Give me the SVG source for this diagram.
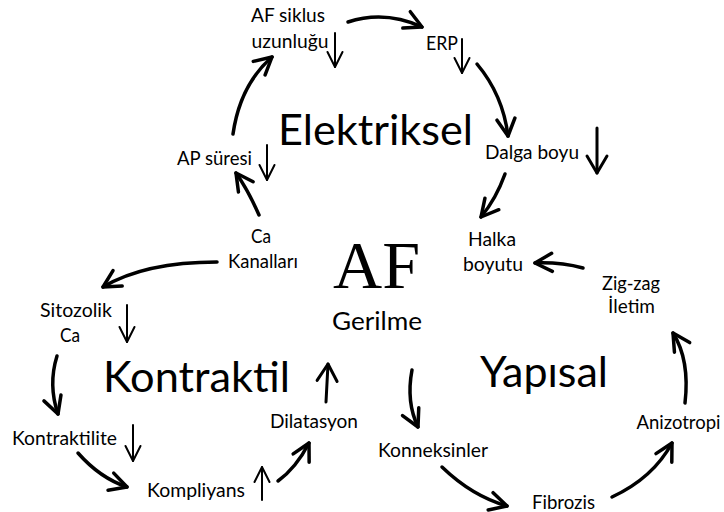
<svg xmlns="http://www.w3.org/2000/svg" width="724" height="512" viewBox="0 0 724 512">
  <style>
    .lbl { font-family: Lato, "Open Sans", "Liberation Sans", sans-serif; font-size: 19.5px; fill: #000; text-anchor: middle; }
    .title { font-family: Lato, "Open Sans", "Liberation Sans", sans-serif; font-size: 42px; fill: #000; text-anchor: middle; }
    .af { font-family: "Liberation Serif", "DejaVu Serif", serif; font-size: 68px; fill: #000; text-anchor: middle; }
    .sub { font-family: Lato, "Open Sans", "Liberation Sans", sans-serif; font-size: 25px; fill: #000; text-anchor: middle; }
    .flow { fill: none; stroke: #000; stroke-width: 3.5; stroke-linecap: round; marker-end: url(#head); }
    .trend { fill: none; stroke: #000; stroke-width: 2; stroke-linecap: round; marker-end: url(#thin); }
    .trend-b { fill: none; stroke: #000; stroke-width: 3; stroke-linecap: round; marker-end: url(#thinb); }
  </style>
  <defs>
    <marker id="head" markerUnits="userSpaceOnUse" markerWidth="40" markerHeight="40" viewBox="-20 -20 40 40" refX="0" refY="0" orient="auto" overflow="visible">
      <path d="M -17 -9 L 0 0 L -17 9" fill="none" stroke="#000" stroke-width="3.5" stroke-linecap="round" stroke-linejoin="round"/>
    </marker>
    <marker id="thin" markerUnits="userSpaceOnUse" markerWidth="40" markerHeight="40" viewBox="-20 -20 40 40" refX="0" refY="0" orient="auto" overflow="visible">
      <path d="M -15 -7.5 L 0 0 L -15 7.5" fill="none" stroke="#000" stroke-width="2" stroke-linecap="round" stroke-linejoin="round"/>
    </marker>
    <marker id="thinb" markerUnits="userSpaceOnUse" markerWidth="40" markerHeight="40" viewBox="-20 -20 40 40" refX="0" refY="0" orient="auto" overflow="visible">
      <path d="M -17 -10 L 0 0 L -17 10" fill="none" stroke="#000" stroke-width="3" stroke-linecap="round" stroke-linejoin="round"/>
    </marker>
  </defs>

  <rect width="724" height="512" fill="#fff"/>

  <!-- centre -->
  <g id="af">
    <text class="af" x="376.5" y="288" textLength="87" lengthAdjust="spacingAndGlyphs">AF</text>
  </g>
  <g id="gerilme">
    <text class="sub" x="377" y="330" textLength="90" lengthAdjust="spacingAndGlyphs">Gerilme</text>
  </g>

  <!-- category titles -->
  <g id="elektriksel">
    <text class="title" x="375.5" y="145" textLength="195" lengthAdjust="spacingAndGlyphs">Elektriksel</text>
  </g>
  <g id="kontraktil">
    <text class="title" x="196.5" y="392" textLength="187" lengthAdjust="spacingAndGlyphs">Kontraktil</text>
  </g>
  <g id="yapisal">
    <text class="title" x="544" y="387" textLength="128" lengthAdjust="spacingAndGlyphs">Yapısal</text>
  </g>

  <!-- electrical cycle -->
  <g id="af-siklus">
    <text class="lbl" x="288" y="22" textLength="74" lengthAdjust="spacingAndGlyphs">AF siklus</text>
    <text class="lbl" x="290" y="48" textLength="77" lengthAdjust="spacingAndGlyphs">uzunluğu</text>
  </g>
  <g id="erp">
    <text class="lbl" x="442" y="50" textLength="32" lengthAdjust="spacingAndGlyphs">ERP</text>
  </g>
  <g id="dalga-boyu">
    <text class="lbl" x="532" y="159" textLength="94" lengthAdjust="spacingAndGlyphs">Dalga boyu</text>
  </g>
  <g id="halka-boyutu">
    <text class="lbl" x="492" y="246" textLength="48" lengthAdjust="spacingAndGlyphs">Halka</text>
    <text class="lbl" x="493" y="271" textLength="60" lengthAdjust="spacingAndGlyphs">boyutu</text>
  </g>
  <g id="ap-suresi">
    <text class="lbl" x="214.5" y="165" textLength="75" lengthAdjust="spacingAndGlyphs">AP süresi</text>
  </g>
  <g id="ca-kanallari">
    <text class="lbl" x="261" y="243" textLength="20" lengthAdjust="spacingAndGlyphs">Ca</text>
    <text class="lbl" x="263" y="268" textLength="70" lengthAdjust="spacingAndGlyphs">Kanalları</text>
  </g>

  <!-- contractile cycle -->
  <g id="sitozolik-ca">
    <text class="lbl" x="76" y="317" textLength="72" lengthAdjust="spacingAndGlyphs">Sitozolik</text>
    <text class="lbl" x="70" y="342" textLength="20" lengthAdjust="spacingAndGlyphs">Ca</text>
  </g>
  <g id="kontraktilite">
    <text class="lbl" x="64.5" y="445" textLength="105" lengthAdjust="spacingAndGlyphs">Kontraktilite</text>
  </g>
  <g id="kompliyans">
    <text class="lbl" x="196" y="497" textLength="98" lengthAdjust="spacingAndGlyphs">Kompliyans</text>
  </g>
  <g id="dilatasyon">
    <text class="lbl" x="314" y="428" textLength="88" lengthAdjust="spacingAndGlyphs">Dilatasyon</text>
  </g>

  <!-- structural cycle -->
  <g id="konneksinler">
    <text class="lbl" x="433" y="457" textLength="110" lengthAdjust="spacingAndGlyphs">Konneksinler</text>
  </g>
  <g id="fibrozis">
    <text class="lbl" x="563.5" y="509" textLength="63" lengthAdjust="spacingAndGlyphs">Fibrozis</text>
  </g>
  <g id="anizotropi">
    <text class="lbl" x="678.5" y="429" textLength="84" lengthAdjust="spacingAndGlyphs">Anizotropi</text>
  </g>
  <g id="zig-zag-iletim">
    <text class="lbl" x="631" y="290" textLength="58" lengthAdjust="spacingAndGlyphs">Zig-zag</text>
    <text class="lbl" x="631.5" y="313" textLength="47" lengthAdjust="spacingAndGlyphs">İletim</text>
  </g>

  <g id="connectors">
    <!-- electrical loop -->
    <path class="flow" d="M 348 22 Q 385 10 422 27"/>
    <path class="flow" d="M 477 64 Q 503 95 508 136"/>
    <path class="flow" d="M 505 174 Q 496 199 481 217"/>
    <path class="flow" d="M 583 268 Q 560 262 535 263"/>
    <path class="flow" d="M 233 134 Q 240 85 272 57"/>
    <path class="flow" d="M 259 215 Q 248 190 236 173"/>
    <!-- contractile loop -->
    <path class="flow" d="M 217 262 Q 145 262 103 287"/>
    <path class="flow" d="M 57 356 Q 48 385 58 414"/>
    <path class="flow" d="M 78 453 Q 100 478 127 487"/>
    <path class="flow" d="M 278 481 Q 296 468 309 443"/>
    <!-- structural loop -->
    <path class="flow" d="M 412 370 Q 406 402 418 427"/>
    <path class="flow" d="M 442 467 Q 472 496 507 506"/>
    <path class="flow" d="M 612 497 Q 653 478 672 443"/>
    <path class="flow" d="M 685 403 Q 690 360 673 333"/>

    <!-- increase / decrease markers -->
    <path class="trend" d="M 335 33 L 335 67"/>
    <path class="trend" d="M 462 39 L 462 73"/>
    <path class="trend" d="M 267 145 L 267 180"/>
    <path class="trend-b" d="M 597 128 L 597 173"/>
    <path class="trend" d="M 127 305 L 127 342"/>
    <path class="trend" d="M 133 425 L 133 461"/>
    <path class="trend" d="M 262 500 L 262 467"/>
    <path class="trend-b" d="M 326 402 L 328 364"/>
  </g>
</svg>
